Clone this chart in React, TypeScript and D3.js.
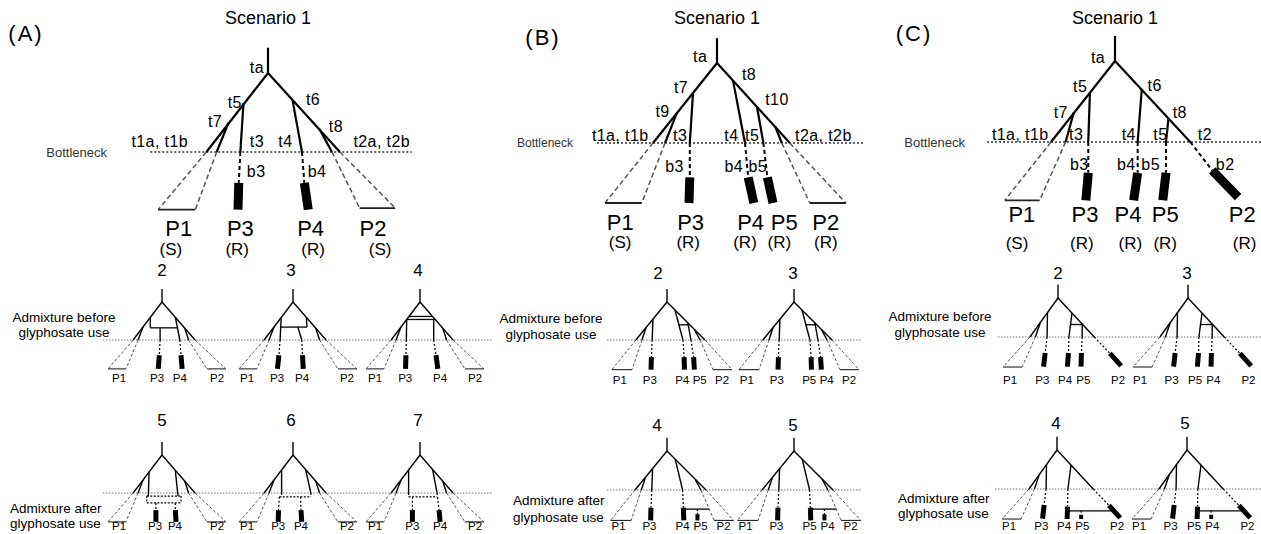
import React from 'react';
import * as d3 from 'd3';

// segment: [x1, depth1, x2, depth2, kind]; x in branch units from the root fork, depth 0 = fork, 1 = bottleneck
type Seg = [number, number, number, number, string];
type Lab = [string, number, number];
type Pop = [string, number];

// ---------- Scenario 1 trees ----------
const bigA: Seg[] = [
  [0, -0.32, 0, 0, 'branch'],
  [0, 0, -0.78, 1, 'branch'],
  [-0.5, 0.63, -0.65, 1, 'branch'],
  [-0.31, 0.38, -0.35, 1, 'branch'],
  [-0.35, 1, -0.37, 1.39, 'dash'],
  [-0.37, 1.39, -0.38, 1.73, 'bar'],
  [0, 0, 0.91, 1, 'branch'],
  [0.65, 0.71, 0.81, 1, 'branch'],
  [0.31, 0.34, 0.43, 1, 'branch'],
  [0.43, 1, 0.46, 1.39, 'dash'],
  [0.46, 1.39, 0.51, 1.73, 'bar'],
  [-0.78, 1, -1.39, 1.73, 'drift'],
  [-0.65, 1, -0.92, 1.73, 'drift'],
  [-1.39, 1.73, -0.92, 1.73, 'base'],
  [0.81, 1, 1.16, 1.71, 'drift'],
  [0.91, 1, 1.61, 1.71, 'drift'],
  [1.16, 1.71, 1.61, 1.71, 'base'],
];
const bigB: Seg[] = [
  [0, -0.31, 0, 0, 'branch'],
  [0, 0, -0.8, 1, 'branch'],
  [-0.5, 0.62, -0.65, 1, 'branch'],
  [-0.3, 0.38, -0.34, 1, 'branch'],
  [-0.34, 1, -0.34, 1.43, 'dash'],
  [-0.34, 1.43, -0.35, 1.75, 'bar'],
  [0, 0, 0.91, 1, 'branch'],
  [0.2, 0.22, 0.35, 1, 'branch'],
  [0.35, 1, 0.39, 1.43, 'dash'],
  [0.39, 1.43, 0.46, 1.75, 'bar'],
  [0.5, 0.55, 0.58, 1, 'branch'],
  [0.58, 1, 0.63, 1.43, 'dash'],
  [0.63, 1.43, 0.7, 1.75, 'bar'],
  [0.73, 0.8, 0.81, 1, 'branch'],
  [-0.8, 1, -1.4, 1.75, 'drift'],
  [-0.65, 1, -0.94, 1.75, 'drift'],
  [-1.4, 1.75, -0.94, 1.75, 'base'],
  [0.81, 1, 1.16, 1.75, 'drift'],
  [0.91, 1, 1.61, 1.75, 'drift'],
  [1.16, 1.75, 1.61, 1.75, 'base'],
];
const bigC: Seg[] = [
  [0, -0.31, 0, 0, 'branch'],
  [0, 0, -0.79, 1, 'branch'],
  [-0.51, 0.64, -0.61, 1, 'branch'],
  [-0.31, 0.4, -0.33, 1, 'branch'],
  [-0.33, 1, -0.33, 1.38, 'dash'],
  [-0.33, 1.38, -0.36, 1.72, 'bar'],
  [0, 0, 0.93, 1, 'branch'],
  [0.93, 1, 1.2, 1.35, 'dash'],
  [1.2, 1.35, 1.52, 1.68, 'bar'],
  [0.33, 0.36, 0.28, 1, 'branch'],
  [0.28, 1, 0.28, 1.38, 'dash'],
  [0.28, 1.38, 0.23, 1.72, 'bar'],
  [0.66, 0.71, 0.63, 1, 'branch'],
  [0.63, 1, 0.63, 1.38, 'dash'],
  [0.63, 1.38, 0.59, 1.72, 'bar'],
  [-0.79, 1, -1.36, 1.72, 'drift'],
  [-0.61, 1, -0.93, 1.72, 'drift'],
  [-1.36, 1.72, -0.93, 1.72, 'base'],
];

const timesA: Lab[] = [
  ['ta', -0.14, -0.07], ['t5', -0.42, 0.37], ['t7', -0.67, 0.62], ['t6', 0.57, 0.34], ['t8', 0.86, 0.68],
  ['t1a, t1b', -1.37, 0.87], ['t3', -0.14, 0.87], ['t4', 0.22, 0.87], ['t2a, t2b', 1.44, 0.87],
  ['b3', -0.15, 1.25], ['b4', 0.62, 1.25],
];
const timesB: Lab[] = [
  ['ta', -0.21, -0.08], ['t7', -0.45, 0.31], ['t9', -0.68, 0.61], ['t8', 0.4, 0.14], ['t10', 0.75, 0.46],
  ['t1a, t1b', -1.21, 0.9], ['t3', -0.46, 0.9], ['t4', 0.18, 0.9], ['t5', 0.44, 0.9], ['t2a, t2b', 1.33, 0.9],
  ['b3', -0.53, 1.29], ['b4', 0.21, 1.29], ['b5', 0.51, 1.29],
];
const timesC: Lab[] = [
  ['ta', -0.21, -0.04], ['t5', -0.43, 0.32], ['t7', -0.67, 0.63], ['t6', 0.49, 0.3], ['t8', 0.8, 0.64],
  ['t1a, t1b', -1.17, 0.91], ['t3', -0.48, 0.91], ['t4', 0.17, 0.91], ['t5', 0.56, 0.91], ['t2', 1.11, 0.91],
  ['b3', -0.44, 1.28], ['b4', 0.14, 1.28], ['b5', 0.44, 1.28], ['b2', 1.36, 1.28],
];

const popsA: Pop[] = [['P1', -1.13], ['P3', -0.35], ['P4', 0.54], ['P2', 1.33]];
const statusA: Pop[] = [['(S)', -1.23], ['(R)', -0.39], ['(R)', 0.57], ['(S)', 1.42]];
const popsB: Pop[] = [['P1', -1.21], ['P3', -0.33], ['P4', 0.42], ['P5', 0.84], ['P2', 1.36]];
const statusB: Pop[] = [['(S)', -1.21], ['(R)', -0.36], ['(R)', 0.35], ['(R)', 0.78], ['(R)', 1.36]];
const popsC: Pop[] = [['P1', -1.15], ['P3', -0.37], ['P4', 0.16], ['P5', 0.62], ['P2', 1.57]];
const statusC: Pop[] = [['(S)', -1.21], ['(R)', -0.41], ['(R)', 0.19], ['(R)', 0.62], ['(R)', 1.6]];

// ---------- admixture scenarios (small trees) ----------
const baseA: Seg[] = [
  [0, -0.34, 0, 0, 'branch'],
  [0, 0, -0.76, 1, 'branch'],
  [-0.5, 0.66, -0.63, 1, 'branch'],
  [0, 0, 0.87, 1, 'branch'],
  [0.6, 0.69, 0.7, 1, 'branch'],
  [-0.76, 1, -1.42, 1.76, 'drift'],
  [-0.63, 1, -0.95, 1.76, 'drift'],
  [-1.42, 1.76, -0.95, 1.76, 'base'],
  [0.7, 1, 1.18, 1.76, 'drift'],
  [0.87, 1, 1.68, 1.76, 'drift'],
  [1.18, 1.76, 1.68, 1.76, 'base'],
];
const mixA2: Seg[] = [
  [-0.31, 0.4, -0.31, 0.68, 'admix'],
  [-0.31, 0.68, 0.41, 0.68, 'admix'],
  [-0.05, 0.68, -0.05, 1, 'branch'],
  [-0.05, 1, -0.07, 1.4, 'dash'],
  [-0.07, 1.4, -0.1, 1.76, 'bar'],
  [0.35, 0.4, 0.47, 1, 'branch'],
  [0.47, 1, 0.5, 1.4, 'dash'],
  [0.5, 1.4, 0.53, 1.76, 'bar'],
];
const mixA3: Seg[] = [
  [-0.31, 0.4, -0.34, 1, 'branch'],
  [-0.34, 1, -0.37, 1.4, 'dash'],
  [-0.37, 1.4, -0.41, 1.76, 'bar'],
  [-0.33, 0.66, 0.37, 0.66, 'admix'],
  [0.37, 0.66, 0.35, 0.4, 'admix'],
  [0.13, 0.66, 0.23, 1, 'branch'],
  [0.23, 1, 0.25, 1.4, 'dash'],
  [0.25, 1.4, 0.27, 1.76, 'bar'],
];
const mixA4: Seg[] = [
  [-0.29, 0.38, 0.33, 0.38, 'admix'],
  [-0.35, 0.46, 0.4, 0.46, 'admix'],
  [-0.35, 0.46, -0.36, 1, 'branch'],
  [-0.36, 1, -0.37, 1.4, 'dash'],
  [-0.37, 1.4, -0.38, 1.76, 'bar'],
  [0.36, 0.46, 0.36, 1, 'branch'],
  [0.36, 1, 0.42, 1.4, 'dash'],
  [0.42, 1.4, 0.47, 1.76, 'bar'],
];
const mixA5: Seg[] = [
  [-0.34, 0.45, -0.36, 1.08, 'branch'],
  [0.35, 0.4, 0.42, 1.08, 'branch'],
  [-0.4, 1.08, 0.5, 1.08, 'admixDash'],
  [-0.4, 1.26, 0.5, 1.26, 'admixDash'],
  [-0.4, 1.08, -0.4, 1.26, 'admixDash'],
  [0.5, 1.08, 0.5, 1.26, 'admixDash'],
  [-0.16, 1.26, -0.16, 1.45, 'dash'],
  [-0.16, 1.45, -0.16, 1.76, 'bar'],
  [0.35, 1.26, 0.35, 1.45, 'dash'],
  [0.35, 1.45, 0.37, 1.76, 'bar'],
];
const mixA6: Seg[] = [
  [-0.3, 0.4, -0.3, 1, 'branch'],
  [0.33, 0.38, 0.47, 1, 'branch'],
  [-0.3, 1, -0.3, 1.1, 'admixDash'],
  [0.47, 1, 0.47, 1.1, 'admixDash'],
  [-0.36, 1.1, 0.47, 1.1, 'admixDash'],
  [-0.36, 1.1, -0.38, 1.45, 'dash'],
  [-0.38, 1.45, -0.39, 1.76, 'bar'],
  [0.2, 1.1, 0.21, 1.45, 'dash'],
  [0.21, 1.45, 0.23, 1.76, 'bar'],
];
const mixA7: Seg[] = [
  [-0.3, 0.4, -0.3, 1, 'branch'],
  [0.33, 0.38, 0.45, 1, 'branch'],
  [-0.3, 1, -0.3, 1.1, 'admixDash'],
  [-0.3, 1.1, 0.45, 1.1, 'admixDash'],
  [-0.2, 1.1, -0.2, 1.45, 'dash'],
  [-0.2, 1.45, -0.2, 1.76, 'bar'],
  [0.45, 1, 0.5, 1.45, 'dash'],
  [0.5, 1.45, 0.53, 1.76, 'bar'],
];

const baseB: Seg[] = [
  [0, -0.34, 0, 0, 'branch'],
  [0, 0, -0.82, 1, 'branch'],
  [-0.55, 0.67, -0.66, 1, 'branch'],
  [0, 0, 1.0, 1, 'branch'],
  [0.72, 0.72, 0.87, 1, 'branch'],
  [-0.37, 0.45, -0.39, 1, 'branch'],
  [-0.39, 1, -0.41, 1.45, 'dash'],
  [-0.41, 1.45, -0.42, 1.78, 'bar'],
  [-0.82, 1, -1.45, 1.78, 'drift'],
  [-0.66, 1, -0.92, 1.78, 'drift'],
  [-1.45, 1.78, -0.92, 1.78, 'base'],
  [0.87, 1, 1.21, 1.78, 'drift'],
  [1.0, 1, 1.71, 1.78, 'drift'],
  [1.21, 1.78, 1.71, 1.78, 'base'],
];
const mixBbefore: Seg[] = [
  [0.21, 0.21, 0.42, 1, 'branch'],
  [0.42, 1, 0.45, 1.45, 'dash'],
  [0.45, 1.45, 0.46, 1.78, 'bar'],
  [0.55, 0.55, 0.63, 1, 'branch'],
  [0.63, 1, 0.7, 1.45, 'dash'],
  [0.7, 1.45, 0.72, 1.78, 'bar'],
  [0.3, 0.6, 0.56, 0.6, 'admix'],
];
const mixBafter: Seg[] = [
  [0.21, 0.21, 0.4, 1, 'branch'],
  [0.4, 1, 0.42, 1.45, 'dash'],
  [0.42, 1.45, 0.43, 1.78, 'bar'],
  [0.47, 1.49, 1.08, 1.49, 'admix'],
  [0.78, 1.49, 0.78, 1.62, 'dash'],
  [0.78, 1.62, 0.78, 1.78, 'stub'],
];

const baseC: Seg[] = [
  [0, -0.34, 0, 0, 'branch'],
  [0, 0, -0.72, 1, 'branch'],
  [-0.45, 0.62, -0.58, 1, 'branch'],
  [0, 0, 0.93, 1, 'branch'],
  [0.93, 1, 1.33, 1.42, 'dash'],
  [1.33, 1.42, 1.62, 1.74, 'bar'],
  [-0.27, 0.38, -0.28, 1, 'branch'],
  [-0.28, 1, -0.33, 1.41, 'dash'],
  [-0.33, 1.41, -0.37, 1.76, 'bar'],
  [0.36, 0.38, 0.28, 1, 'branch'],
  [-0.72, 1, -1.41, 1.77, 'drift'],
  [-0.58, 1, -0.92, 1.77, 'drift'],
  [-1.41, 1.77, -0.92, 1.77, 'base'],
];
const mixCbefore: Seg[] = [
  [0.28, 1, 0.27, 1.41, 'dash'],
  [0.27, 1.41, 0.24, 1.76, 'bar'],
  [0.62, 0.66, 0.62, 1, 'branch'],
  [0.62, 1, 0.6, 1.41, 'dash'],
  [0.6, 1.41, 0.59, 1.76, 'bar'],
  [0.33, 0.68, 0.62, 0.68, 'admix'],
];
const mixCafter: Seg[] = [
  [0.28, 1, 0.27, 1.45, 'dash'],
  [0.27, 1.45, 0.26, 1.77, 'bar'],
  [0.27, 1.56, 1.44, 1.56, 'admix'],
  [0.62, 1.56, 0.62, 1.66, 'dash'],
  [0.62, 1.66, 0.62, 1.77, 'stub'],
];

const popsA2: Pop[] = [['P1', -1.13], ['P3', -0.13], ['P4', 0.47], ['P2', 1.45]];
const popsA3: Pop[] = [['P1', -1.21], ['P3', -0.42], ['P4', 0.24], ['P2', 1.42]];
const popsA4: Pop[] = [['P1', -1.18], ['P3', -0.39], ['P4', 0.53], ['P2', 1.45]];
const popsA5: Pop[] = [['P1', -1.13], ['P3', -0.18], ['P4', 0.34], ['P2', 1.45]];
const popsA6: Pop[] = [['P1', -1.21], ['P3', -0.39], ['P4', 0.21], ['P2', 1.42]];
const popsA7: Pop[] = [['P1', -1.18], ['P3', -0.2], ['P4', 0.53], ['P2', 1.45]];
const popsB45: Pop[] = [['P1', -1.24], ['P3', -0.45], ['P4', 0.4], ['P5', 0.86], ['P2', 1.45]];
const popsB54: Pop[] = [['P1', -1.24], ['P3', -0.45], ['P5', 0.4], ['P4', 0.86], ['P2', 1.45]];
const popsC45: Pop[] = [['P1', -1.23], ['P3', -0.4], ['P4', 0.18], ['P5', 0.65], ['P2', 1.54]];
const popsC54: Pop[] = [['P1', -1.23], ['P3', -0.42], ['P5', 0.18], ['P4', 0.65], ['P2', 1.55]];

const FONT = '"Liberation Sans", Arial, Helvetica, sans-serif';

function segStyle(kind: string, big: boolean): any {
  switch (kind) {
    case 'branch': return { stroke: '#000', strokeWidth: big ? 2.2 : 1.4 };
    case 'drift': return { stroke: '#555', strokeWidth: big ? 1.5 : 1, strokeDasharray: big ? '5 3' : '3 2' };
    case 'base': return { stroke: '#222', strokeWidth: big ? 1.8 : 1.1 };
    case 'dash': return { stroke: '#000', strokeWidth: big ? 2 : 1.2, strokeDasharray: big ? '4 3' : '2 2' };
    case 'bar': return { stroke: '#000', strokeWidth: big ? 9 : 5 };
    case 'stub': return { stroke: '#000', strokeWidth: 4 };
    case 'admix': return { stroke: '#000', strokeWidth: 1.3 };
    case 'admixDash': return { stroke: '#000', strokeWidth: 1.2, strokeDasharray: '2 1.5' };
    default: return { stroke: '#000' };
  }
}

function Tree({ segs, jx, jy, unit, big }: any) {
  const x = d3.scaleLinear().domain([0, 1]).range([jx, jx + unit]);
  const y = d3.scaleLinear().domain([0, 1]).range([jy, jy + unit]);
  return (
    <g>
      {segs.map((s: Seg, i: number) => (
        <line key={i} x1={x(s[0])} y1={y(s[1])} x2={x(s[2])} y2={y(s[3])} {...segStyle(s[4], big)} />
      ))}
    </g>
  );
}

const bigLayout = [
  { letter: '(A)', lx: 26, ly: 33, segs: bigA, times: timesA, pops: popsA, status: statusA, jx: 268, jy: 73, unit: 79, popV: 1.97, statusV: 2.24, neck: [-1.49, 1.82], neckEnd: 107, neckSize: 13 },
  { letter: '(B)', lx: 543, ly: 37, segs: bigB, times: timesB, pops: popsB, status: statusB, jx: 717, jy: 63, unit: 80, popV: 1.99, statusV: 2.24, neck: [-1.5, 1.85], neckEnd: 573, neckSize: 12 },
  { letter: '(C)', lx: 914, ly: 33, segs: bigC, times: timesC, pops: popsC, status: statusC, jx: 1115, jy: 61, unit: 81, popV: 1.9, statusV: 2.25, neck: [-1.58, 1.8], neckEnd: 965, neckSize: 13 },
];

const smallLayout = [
  { num: '2', segs: [...baseA, ...mixA2], pops: popsA2, jx: 162, jy: 302, unit: 38, nx: 162, ny: 270, py: 378 },
  { num: '3', segs: [...baseA, ...mixA3], pops: popsA3, jx: 293, jy: 302, unit: 38, nx: 291, ny: 270, py: 378 },
  { num: '4', segs: [...baseA, ...mixA4], pops: popsA4, jx: 420, jy: 302, unit: 38, nx: 418, ny: 270, py: 378 },
  { num: '5', segs: [...baseA, ...mixA5], pops: popsA5, jx: 162, jy: 455, unit: 38, nx: 162, ny: 420, py: 526 },
  { num: '6', segs: [...baseA, ...mixA6], pops: popsA6, jx: 293, jy: 455, unit: 38, nx: 291, ny: 420, py: 526 },
  { num: '7', segs: [...baseA, ...mixA7], pops: popsA7, jx: 420, jy: 455, unit: 38, nx: 418, ny: 420, py: 526 },
  { num: '2', segs: [...baseB, ...mixBbefore], pops: popsB45, jx: 667, jy: 302, unit: 38, nx: 658, ny: 273, py: 380 },
  { num: '3', segs: [...baseB, ...mixBbefore], pops: popsB54, jx: 794, jy: 302, unit: 38, nx: 793, ny: 273, py: 380 },
  { num: '4', segs: [...baseB, ...mixBafter], pops: popsB45, jx: 667, jy: 451, unit: 39, nx: 657, ny: 425, py: 526 },
  { num: '5', segs: [...baseB, ...mixBafter], pops: popsB54, jx: 794, jy: 451, unit: 39, nx: 793, ny: 425, py: 526 },
  { num: '2', segs: [...baseC, ...mixCbefore], pops: popsC45, jx: 1058, jy: 298, unit: 39, nx: 1058, ny: 273, py: 380 },
  { num: '3', segs: [...baseC, ...mixCbefore], pops: popsC54, jx: 1188, jy: 298, unit: 39, nx: 1187, ny: 273, py: 380 },
  { num: '4', segs: [...baseC, ...mixCafter], pops: popsC45, jx: 1057, jy: 450, unit: 39, nx: 1056, ny: 423, py: 526 },
  { num: '5', segs: [...baseC, ...mixCafter], pops: popsC54, jx: 1187, jy: 450, unit: 39, nx: 1185, ny: 423, py: 526 },
];

// small-row bottleneck lines [x1, x2, y]
const rowNecks = [[103, 492, 340], [103, 492, 493], [607, 862, 340], [607, 862, 490], [998, 1261, 337], [995, 1261, 489]];

const notes = [
  { lines: ['Admixture before', 'glyphosate use'], x: 64, y: [317, 332], anchor: 'middle' },
  { lines: ['Admixture after', 'glyphosate use'], x: 10, y: [508, 523], anchor: 'start' },
  { lines: ['Admixture before', 'glyphosate use'], x: 551, y: [318, 334], anchor: 'middle' },
  { lines: ['Admixture after', 'glyphosate use'], x: 513, y: [500, 517], anchor: 'start' },
  { lines: ['Admixture before', 'glyphosate use'], x: 940, y: [316, 332], anchor: 'middle' },
  { lines: ['Admixture after', 'glyphosate use'], x: 898, y: [498, 513], anchor: 'start' },
];

export default function App() {
  return (
    <svg width={1261} height={534} style={{ position: 'absolute', left: 0, top: 0, background: '#fff' }} fontFamily={FONT}>
      <rect width={1261} height={534} fill="#fff" />
      {bigLayout.map((b, i) => {
        const x = d3.scaleLinear().domain([0, 1]).range([b.jx, b.jx + b.unit]);
        const y = d3.scaleLinear().domain([0, 1]).range([b.jy, b.jy + b.unit]);
        return (
          <g key={i}>
            <text x={b.jx} y={18} textAnchor="middle" dominantBaseline="central" fontSize={18}>Scenario 1</text>
            <text x={b.lx} y={b.ly} textAnchor="middle" dominantBaseline="central" fontSize={22} letterSpacing={2}>{b.letter}</text>
            <line x1={x(b.neck[0])} x2={x(b.neck[1])} y1={y(1)} y2={y(1)} stroke="#333" strokeWidth={1.6} strokeDasharray="2 2" />
            <text x={b.neckEnd} y={y(1)} textAnchor="end" dominantBaseline="central" fontSize={b.neckSize} fill="#333">Bottleneck</text>
            <Tree segs={b.segs} jx={b.jx} jy={b.jy} unit={b.unit} big={true} />
            {b.times.map((t, k) => (
              <text key={k} x={x(t[1])} y={y(t[2])} textAnchor="middle" dominantBaseline="central" fontSize={16} letterSpacing={0.4}>{t[0]}</text>
            ))}
            {b.pops.map((p, k) => (
              <text key={'p' + k} x={x(p[1])} y={y(b.popV)} textAnchor="middle" dominantBaseline="central" fontSize={22}>{p[0]}</text>
            ))}
            {b.status.map((p, k) => (
              <text key={'s' + k} x={x(p[1])} y={y(b.statusV)} textAnchor="middle" dominantBaseline="central" fontSize={17}>{p[0]}</text>
            ))}
          </g>
        );
      })}
      {rowNecks.map((r, i) => (
        <line key={i} x1={r[0]} x2={r[1]} y1={r[2]} y2={r[2]} stroke="#777" strokeWidth={1.1} strokeDasharray="1.5 1.5" />
      ))}
      {smallLayout.map((s, i) => {
        const x = d3.scaleLinear().domain([0, 1]).range([s.jx, s.jx + s.unit]);
        return (
          <g key={i}>
            <text x={s.nx} y={s.ny} textAnchor="middle" dominantBaseline="central" fontSize={17}>{s.num}</text>
            <Tree segs={s.segs} jx={s.jx} jy={s.jy} unit={s.unit} big={false} />
            {s.pops.map((p, k) => (
              <text key={k} x={x(p[1])} y={s.py} textAnchor="middle" dominantBaseline="central" fontSize={11.5}>{p[0]}</text>
            ))}
          </g>
        );
      })}
      {notes.map((n, i) => (
        <g key={i}>
          {n.lines.map((l, k) => (
            <text key={k} x={n.x} y={n.y[k]} textAnchor={n.anchor as any} dominantBaseline="central" fontSize={13.5}>{l}</text>
          ))}
        </g>
      ))}
    </svg>
  );
}
